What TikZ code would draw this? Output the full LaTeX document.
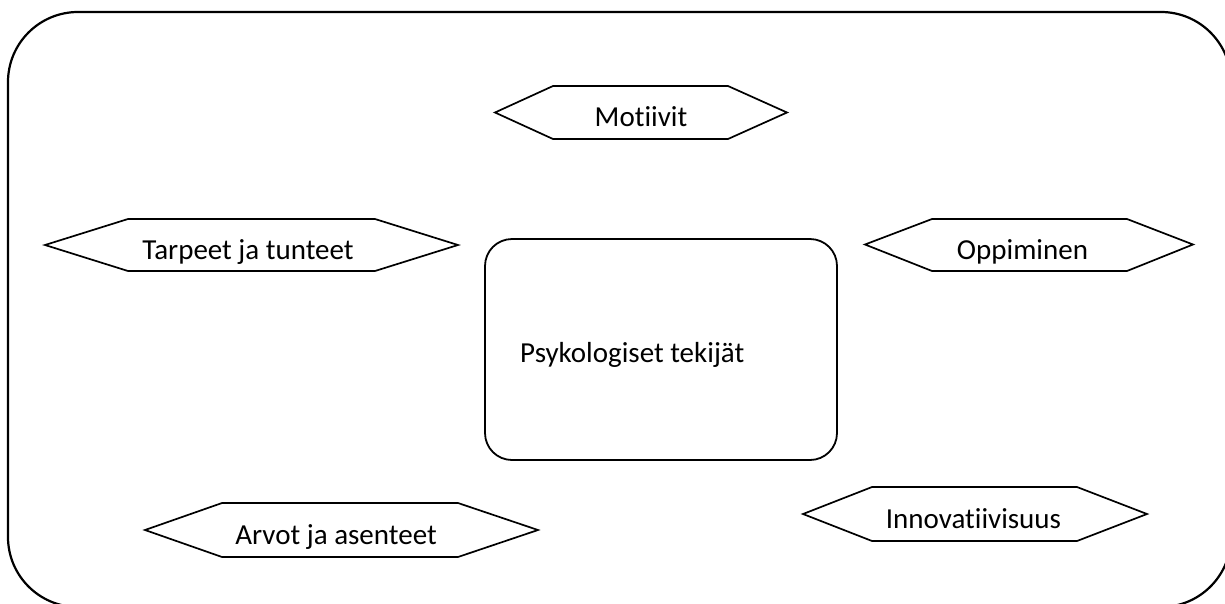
\documentclass[tikz,border=0pt]{standalone}
\usepackage{fontspec}
\setmainfont[Ligatures={NoCommon,NoRare}]{Carlito}
\begin{document}
\begin{tikzpicture}[x=1pt,y=-1pt,
  outline/.style={draw=black,line width=2.2pt},
  hexline/.style={draw=black,line width=1.7pt,line join=miter},
  lbl/.style={font=\fontsize{29}{34}\selectfont,inner sep=0pt,anchor=base}]
\useasboundingbox (0,0) rectangle (1225,603);
\clip (0,0) rectangle (1225,603);
\fill[white] (0,0) rectangle (1225,603);
\draw[outline,rounded corners=70pt] (8,12) rectangle (1231,607);
% central box
\draw[outline,line width=1.8pt,rounded corners=27pt] (485,239) rectangle (837,460);
\node[lbl,anchor=base west] (psy) at (520,362) {Psykologiset tekijät};
% Motiivit
\draw[hexline] (495,112.5) -- (553,86) -- (728,86) -- (787,112.5) -- (728,139) -- (553,139) -- cycle;
\node[lbl] (mot) at (641,126.5) {Motiivit};
% Tarpeet ja tunteet
\draw[hexline] (45,245) -- (128,219) -- (375,219) -- (458,245) -- (375,271) -- (128,271) -- cycle;
\node[lbl] (tar) at (248,259) {Tarpeet ja tunteet};
% Oppiminen
\draw[hexline] (865,244.5) -- (932,219) -- (1127,219) -- (1193,244.5) -- (1127,271) -- (932,271) -- cycle;
\node[lbl] (opp) at (1022.5,259) {Oppiminen};
% Arvot ja asenteet
\draw[hexline] (145,530) -- (222,503) -- (458,503) -- (538,530) -- (458,557) -- (222,557) -- cycle;
\node[lbl] (arv) at (336,544) {Arvot ja asenteet};
% Innovatiivisuus
\draw[hexline] (803,514) -- (872,487) -- (1077,487) -- (1147,514) -- (1077,541) -- (872,541) -- cycle;
\node[lbl] (inn) at (973.5,528) {Innovatiivisuus};
\end{tikzpicture}
\end{document}
